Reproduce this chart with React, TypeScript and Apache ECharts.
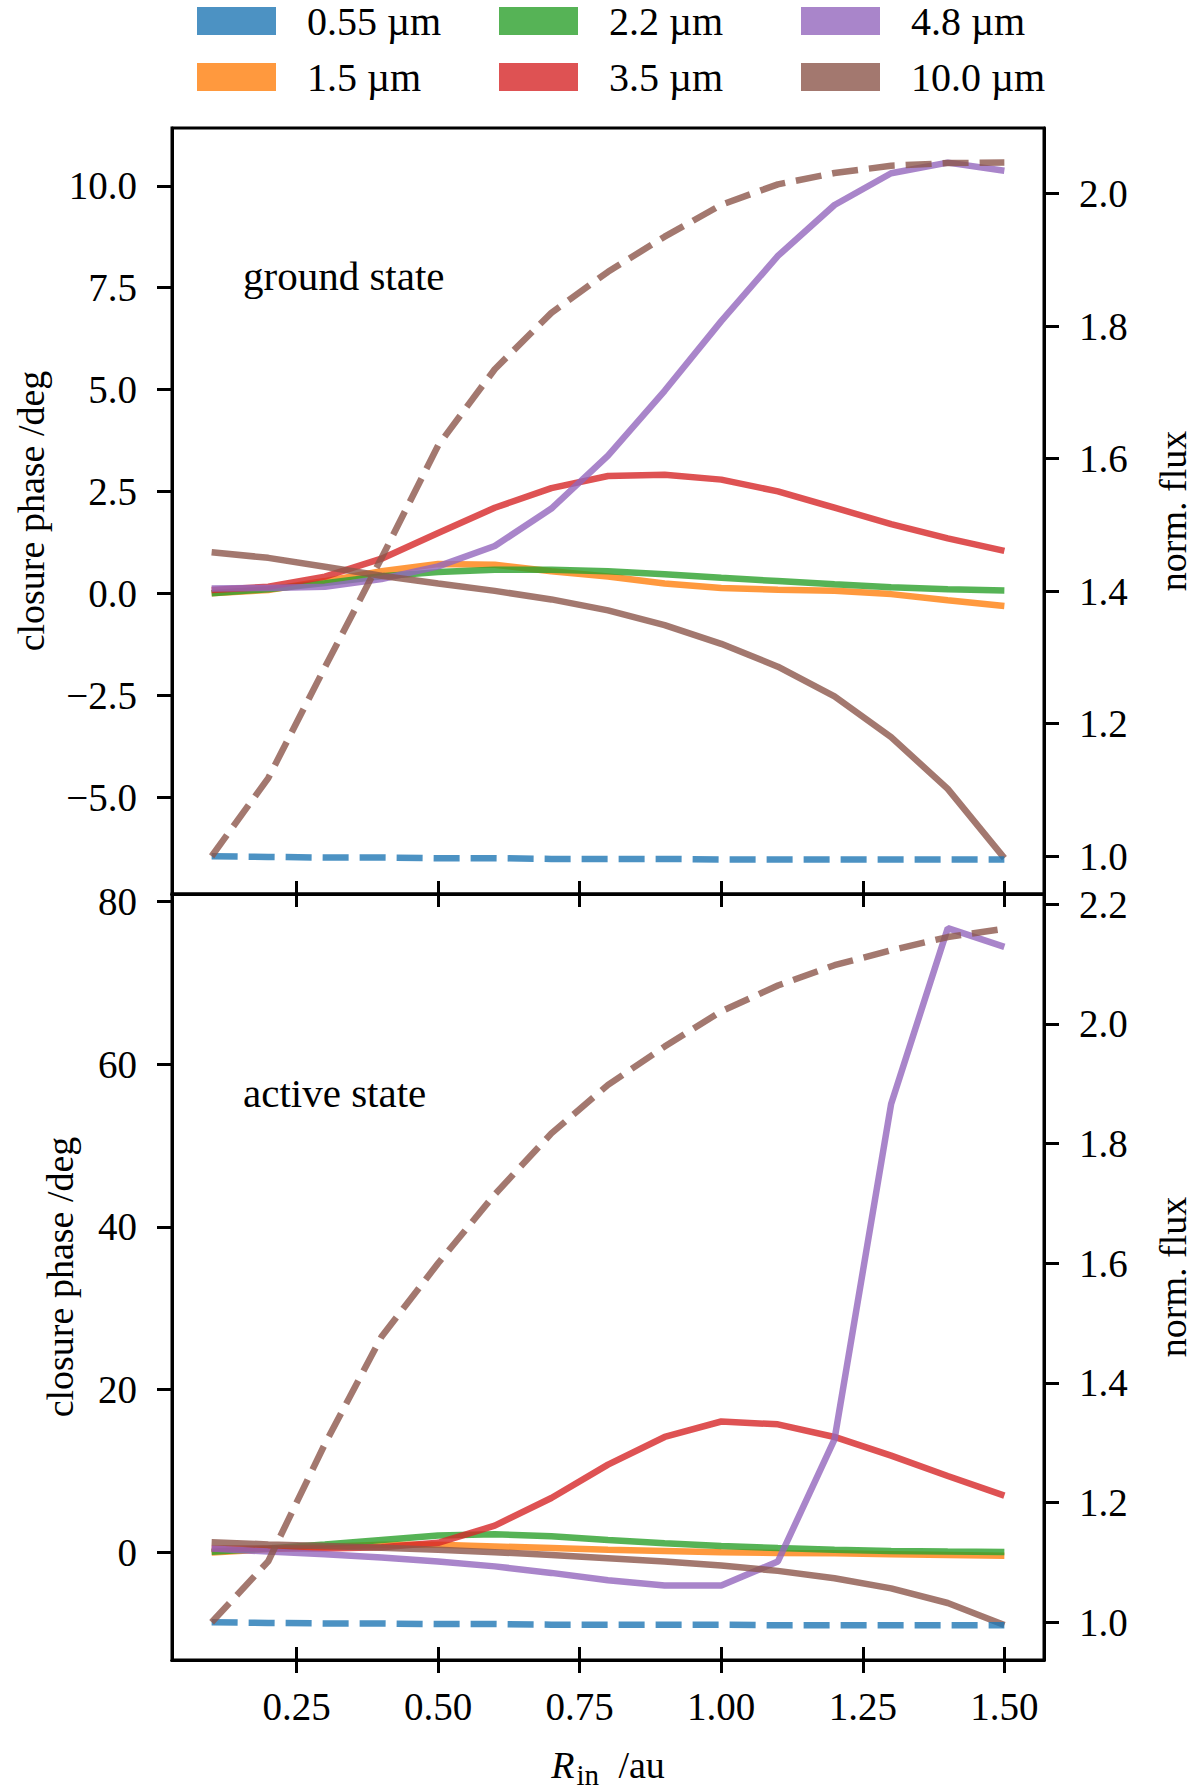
import React, { useEffect, useRef } from "react";
import * as echarts from "echarts";

const R_IN = [0.1, 0.2, 0.3, 0.4, 0.5, 0.6, 0.7, 0.8, 0.9, 1.0, 1.1, 1.2, 1.3, 1.4, 1.5];
const NAMES = ["0.55 µm", "1.5 µm", "2.2 µm", "3.5 µm", "4.8 µm", "10.0 µm"];
const COLORS = [
  "rgba(31,119,180,0.8)",
  "rgba(255,127,14,0.8)",
  "rgba(44,160,44,0.8)",
  "rgba(214,39,40,0.8)",
  "rgba(148,103,189,0.8)",
  "rgba(140,86,75,0.8)",
];

// ground state: closure phase (deg)
const G_CP_15 = [0.0, 0.08, 0.3, 0.54, 0.72, 0.7, 0.54, 0.41, 0.24, 0.13, 0.09, 0.06, -0.02, -0.17, -0.31];
const G_CP_22 = [0.0, 0.1, 0.25, 0.42, 0.52, 0.58, 0.58, 0.54, 0.47, 0.38, 0.3, 0.22, 0.15, 0.1, 0.07];
const G_CP_35 = [0.08, 0.16, 0.41, 0.85, 1.48, 2.1, 2.58, 2.88, 2.91, 2.79, 2.5, 2.1, 1.7, 1.35, 1.04];
const G_CP_48 = [0.12, 0.13, 0.16, 0.35, 0.66, 1.16, 2.08, 3.38, 4.97, 6.68, 8.28, 9.53, 10.31, 10.57, 10.37];
const G_CP_100 = [1.01, 0.87, 0.65, 0.43, 0.24, 0.06, -0.15, -0.42, -0.78, -1.24, -1.8, -2.53, -3.53, -4.8, -6.5];
// ground state: normalised flux
const G_FX_055 = [1.0, 0.999, 0.998, 0.998, 0.997, 0.997, 0.996, 0.996, 0.996, 0.995, 0.995, 0.995, 0.995, 0.995, 0.995];
const G_FX_100 = [1.0, 1.118, 1.285, 1.45, 1.62, 1.735, 1.82, 1.882, 1.935, 1.983, 2.014, 2.031, 2.042, 2.046, 2.047];

// active state: closure phase (deg)
const A_CP_15 = [0.0, 0.4, 0.7, 0.95, 0.95, 0.75, 0.55, 0.35, 0.2, 0.05, -0.05, -0.1, -0.2, -0.3, -0.4];
const A_CP_22 = [0.1, 0.5, 1.0, 1.55, 2.1, 2.25, 2.0, 1.55, 1.15, 0.8, 0.55, 0.35, 0.2, 0.12, 0.08];
const A_CP_35 = [0.5, 0.5, 0.5, 0.65, 1.2, 3.3, 6.7, 10.8, 14.2, 16.1, 15.75, 14.2, 11.9, 9.4, 7.0];
const A_CP_48 = [0.5, 0.12, -0.2, -0.6, -1.1, -1.7, -2.5, -3.4, -4.05, -4.05, -1.1, 13.9, 55.1, 76.7, 74.4];
const A_CP_100 = [1.27, 1.0, 0.8, 0.6, 0.33, 0.05, -0.3, -0.7, -1.1, -1.6, -2.25, -3.15, -4.4, -6.2, -8.9];
// active state: normalised flux
const A_FX_055 = [1.0, 0.999, 0.998, 0.998, 0.997, 0.997, 0.996, 0.996, 0.996, 0.996, 0.995, 0.995, 0.995, 0.995, 0.995];
const A_FX_100 = [1.0, 1.102, 1.298, 1.477, 1.6, 1.715, 1.817, 1.898, 1.962, 2.021, 2.064, 2.098, 2.123, 2.145, 2.159];

const X_TICKS = [0.25, 0.5, 0.75, 1.0, 1.25, 1.5];
const G_CP_TICKS = [-5, -2.5, 0, 2.5, 5, 7.5, 10];
const G_FX_TICKS = [1.0, 1.2, 1.4, 1.6, 1.8, 2.0];
const A_CP_TICKS = [0, 20, 40, 60, 80];
const A_FX_TICKS = [1.0, 1.2, 1.4, 1.6, 1.8, 2.0, 2.2];

const FONT = "'Liberation Serif', 'DejaVu Serif', serif";
const FS_TICK = 39;
const FS_NAME = 38;
const FS_LEGEND = 40;

const fmt = (d: number) => (v: number) => v.toFixed(d).replace("-", "\u2212");

function App() {
  const ref = useRef<HTMLDivElement>(null);

  useEffect(() => {
    if (!ref.current) return;
    const chart = echarts.init(ref.current, undefined, { renderer: "svg" });

    const mk = (name: string, color: string, vals: number[], xi: number, yi: number, dashed: boolean) => ({
      type: "line",
      name,
      xAxisIndex: xi,
      yAxisIndex: yi,
      data: R_IN.map((x, i) => [x, vals[i]]),
      symbol: "none",
      showSymbol: false,
      silent: true,
      z: dashed ? 3 : 2,
      itemStyle: { color },
      lineStyle: { color, width: 6.5, type: dashed ? [26, 11] : "solid", cap: "butt" },
    });

    const axisLine = { show: true, onZero: false, lineStyle: { color: "#000", width: 3 } };
    const tickStyle = { color: "#000", width: 3 };
    const labelStyle = { color: "#000", fontFamily: FONT, fontSize: FS_TICK };

    const xBase = (gi: number) => ({
      type: "value",
      gridIndex: gi,
      min: 0.03,
      max: 1.57,
      axisLine,
      splitLine: { show: false },
    });

    const yBase = (gi: number, pos: string, min: number, max: number, ticks: number[], d: number, name: string, gap: number) => ({
      type: "value",
      gridIndex: gi,
      position: pos,
      min,
      max,
      name,
      nameLocation: "middle",
      nameRotate: 90,
      nameGap: gap,
      nameTextStyle: { color: "#000", fontFamily: FONT, fontSize: FS_NAME },
      axisLine,
      axisTick: { show: true, inside: false, length: 15, lineStyle: tickStyle, customValues: ticks },
      axisLabel: { ...labelStyle, margin: 35, formatter: fmt(d), customValues: ticks },
      splitLine: { show: false },
    });

    const legendCols = [197, 499, 801];

    const option = {
      animation: false,
      backgroundColor: "#fff",
      grid: [
        { left: 172, top: 128, width: 891, height: 766, show: true, borderColor: "#000", borderWidth: 3 },
        { left: 172, top: 894, width: 891, height: 767, show: true, borderColor: "#000", borderWidth: 3 },
      ],
      legend: legendCols.map((left, c) => ({
        data: [NAMES[2 * c], NAMES[2 * c + 1]],
        orient: "vertical",
        left,
        top: 1,
        padding: 0,
        itemWidth: 79,
        itemHeight: 28,
        itemGap: 16,
        icon: "rect",
        selectedMode: false,
        itemStyle: { borderWidth: 0 },
        lineStyle: { width: 0 },
        textStyle: {
          color: "#000",
          fontFamily: FONT,
          fontSize: FS_LEGEND,
          lineHeight: 40,
          padding: [0, 0, 0, 26],
        },
      })),
      xAxis: [
        {
          ...xBase(0),
          axisTick: { show: true, inside: true, length: 13, lineStyle: tickStyle, customValues: X_TICKS },
          axisLabel: { show: false },
        },
        {
          ...xBase(1),
          position: "bottom",
          axisTick: { show: true, inside: false, length: 13, lineStyle: tickStyle, customValues: X_TICKS },
          axisLabel: { ...labelStyle, margin: 27, formatter: fmt(2), customValues: X_TICKS },
          name: "{i|R}{s|in}{n| /au}",
          nameLocation: "middle",
          nameGap: 80,
          nameTextStyle: {
            color: "#000",
            fontFamily: FONT,
            fontSize: FS_NAME,
            rich: {
              i: { fontStyle: "italic", fontFamily: FONT, fontSize: FS_NAME, color: "#000" },
              s: { fontFamily: FONT, fontSize: 29, color: "#000", padding: [20, 10, 0, 2] },
              n: { fontFamily: FONT, fontSize: FS_NAME, color: "#000" },
            },
          },
        },
        {
          ...xBase(1),
          position: "bottom",
          axisTick: { show: true, inside: true, length: 13, lineStyle: tickStyle, customValues: X_TICKS },
          axisLabel: { show: false },
        },
        {
          ...xBase(1),
          position: "top",
          axisTick: { show: true, inside: true, length: 13, lineStyle: tickStyle, customValues: X_TICKS },
          axisLabel: { show: false },
        },
      ],
      yAxis: [
        yBase(0, "left", -7.38, 11.42, G_CP_TICKS, 1, "closure phase /deg", 122),
        yBase(0, "right", 0.943, 2.099, G_FX_TICKS, 1, "norm. flux", 110),
        yBase(1, "left", -13.2, 80.9, A_CP_TICKS, 0, "closure phase /deg", 93),
        yBase(1, "right", 0.937, 2.217, A_FX_TICKS, 1, "norm. flux", 110),
      ],
      graphic: [
        {
          type: "text",
          x: 243,
          y: 276,
          silent: true,
          style: { text: "ground state", fill: "#000", fontFamily: FONT, fontSize: 41, verticalAlign: "middle" },
        },
        {
          type: "text",
          x: 243,
          y: 1093,
          silent: true,
          style: { text: "active state", fill: "#000", fontFamily: FONT, fontSize: 41, verticalAlign: "middle" },
        },
      ],
      series: [
        mk(NAMES[0], COLORS[0], G_FX_055, 0, 1, true),
        mk(NAMES[1], COLORS[1], G_CP_15, 0, 0, false),
        mk(NAMES[2], COLORS[2], G_CP_22, 0, 0, false),
        mk(NAMES[3], COLORS[3], G_CP_35, 0, 0, false),
        mk(NAMES[4], COLORS[4], G_CP_48, 0, 0, false),
        mk(NAMES[5], COLORS[5], G_CP_100, 0, 0, false),
        mk(NAMES[5], COLORS[5], G_FX_100, 0, 1, true),
        mk(NAMES[0], COLORS[0], A_FX_055, 1, 3, true),
        mk(NAMES[1], COLORS[1], A_CP_15, 1, 2, false),
        mk(NAMES[2], COLORS[2], A_CP_22, 1, 2, false),
        mk(NAMES[3], COLORS[3], A_CP_35, 1, 2, false),
        mk(NAMES[4], COLORS[4], A_CP_48, 1, 2, false),
        mk(NAMES[5], COLORS[5], A_CP_100, 1, 2, false),
        mk(NAMES[5], COLORS[5], A_FX_100, 1, 3, true),
      ],
    };

    chart.setOption(option as any);
    return () => chart.dispose();
  }, []);

  return (
    <div
      ref={ref}
      style={{ position: "absolute", left: 0, top: 0, width: 1200, height: 1790, background: "#fff" }}
    />
  );
}

export default App;
